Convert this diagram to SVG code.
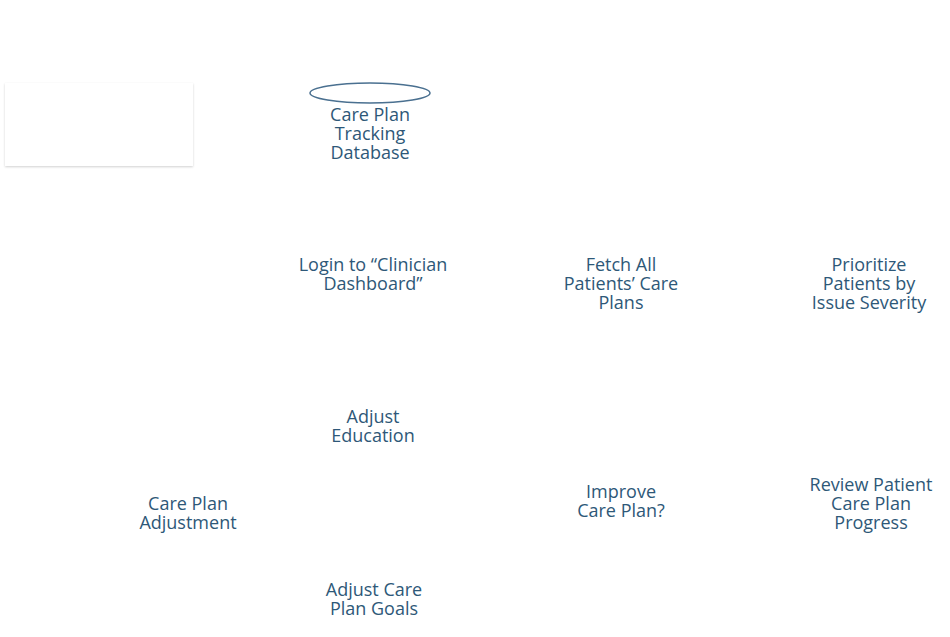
<svg xmlns="http://www.w3.org/2000/svg" width="950" height="637" viewBox="0 0 950 637">
<defs>
<style>
.t{font-family:"Open Sans","Liberation Sans",sans-serif;font-size:18px;fill:#2e5878;text-anchor:middle}
</style>
<filter id="sh" x="-10%" y="-10%" width="120%" height="130%"><feDropShadow dx="0" dy="1" stdDeviation="1.2" flood-color="#000" flood-opacity="0.18"/></filter>
</defs>
<rect width="950" height="637" fill="#fff"/>
<g id="panel"><rect x="5" y="83" width="188" height="83" fill="#fff" filter="url(#sh)"/></g>
<g id="connectors"></g>
<g id="db"><ellipse cx="370" cy="93" rx="60" ry="10" fill="none" stroke="#4a7090" stroke-width="1.5"/>
<text class="t"><tspan x="370" y="121">Care Plan</tspan><tspan x="370" y="140">Tracking</tspan><tspan x="370" y="159">Database</tspan></text></g>
<g id="login"><text class="t"><tspan x="373" y="271">Login to “Clinician</tspan><tspan x="373" y="290">Dashboard”</tspan></text></g>
<g id="fetch"><text class="t"><tspan x="621" y="271">Fetch All</tspan><tspan x="621" y="290">Patients’ Care</tspan><tspan x="621" y="309">Plans</tspan></text></g>
<g id="prioritize"><text class="t"><tspan x="869" y="271">Prioritize</tspan><tspan x="869" y="290">Patients by</tspan><tspan x="869" y="309">Issue Severity</tspan></text></g>
<g id="education"><text class="t"><tspan x="373" y="423">Adjust</tspan><tspan x="373" y="442">Education</tspan></text></g>
<g id="adjustment"><text class="t"><tspan x="188" y="510">Care Plan</tspan><tspan x="188" y="529">Adjustment</tspan></text></g>
<g id="improve"><text class="t"><tspan x="621" y="498">Improve</tspan><tspan x="621" y="517">Care Plan?</tspan></text></g>
<g id="review"><text class="t"><tspan x="871" y="491">Review Patient</tspan><tspan x="871" y="510">Care Plan</tspan><tspan x="871" y="529">Progress</tspan></text></g>
<g id="goals"><text class="t"><tspan x="374" y="596">Adjust Care</tspan><tspan x="374" y="615">Plan Goals</tspan></text></g>
</svg>
